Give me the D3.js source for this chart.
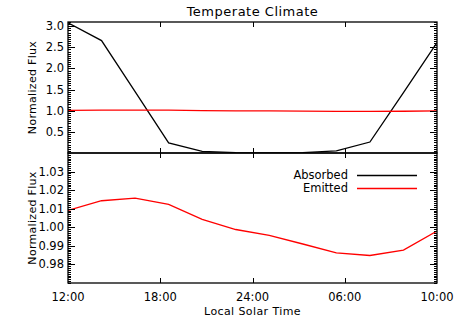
<!DOCTYPE html>
<html>
<head>
<meta charset="utf-8">
<script src="https://cdn.jsdelivr.net/npm/d3@7"></script>
<style>
  body { margin: 0; background: #fff; }
  text { font-family: "DejaVu Sans", sans-serif; fill: #000; }
</style>
</head>
<body>
<svg id="chart" width="458" height="327"></svg>
<script>
// hours after 12:00, one sample every 2 hours
var hours = [0, 2, 4, 6, 8, 10, 12, 14, 16, 18, 20, 22];
var absorbed = [3.08, 2.66, 1.45, 0.24, 0.04, 0.01, 0.005, 0.01, 0.05, 0.26, 1.43, 2.61];
var emitted = [1.0091, 1.0143, 1.0157, 1.0123, 1.0043, 0.9988, 0.9957, 0.9910, 0.9862, 0.9848, 0.9877, 0.9980];
var xTickPos = [0, 5.5, 11, 16.5, 22];
var xTickLabels = ["12:00", "18:00", "24:00", "06:00", "10:00"];
var topTicks = [0.5, 1.0, 1.5, 2.0, 2.5, 3.0];
var botTicks = [0.98, 0.99, 1.00, 1.01, 1.02, 1.03];

var svg = d3.select("#chart");
var L = 68, R = 437, T = 22, M = 153, B = 283;

var x = d3.scaleLinear().domain([0, 22]).range([L, R]);
var yTop = d3.scaleLinear().domain([0, 3.1]).range([M, T]);
var yBot = d3.scaleLinear().domain([0.97, 1.04]).range([B, M]);

/* draw ticks for one panel: major + minor on left/right, majors on top/bottom */
function panel(y, majors, minorStep, fmt, top, bottom) {
    var g = svg.append("g");
    var d0 = y.domain()[0], d1 = y.domain()[1];
    var minors = d3.range(Math.ceil(d0 / minorStep - 1e-6), Math.floor(d1 / minorStep + 1e-6) + 1)
        .map(function (i) { return i * minorStep; });

    g.selectAll(".minL").data(minors).enter().append("line")
        .attr("x1", L).attr("x2", L + 3)
        .attr("y1", function (d) { return Math.round(y(d)) + 0.5; })
        .attr("y2", function (d) { return Math.round(y(d)) + 0.5; })
        .attr("stroke", "#000").attr("stroke-width", 1);
    g.selectAll(".minR").data(minors).enter().append("line")
        .attr("x1", R).attr("x2", R - 3)
        .attr("y1", function (d) { return Math.round(y(d)) + 0.5; })
        .attr("y2", function (d) { return Math.round(y(d)) + 0.5; })
        .attr("stroke", "#000").attr("stroke-width", 1);
    g.selectAll(".majL").data(majors).enter().append("line")
        .attr("x1", L).attr("x2", L + 7)
        .attr("y1", function (d) { return Math.round(y(d)) + 0.5; })
        .attr("y2", function (d) { return Math.round(y(d)) + 0.5; })
        .attr("stroke", "#000").attr("stroke-width", 1);
    g.selectAll(".majR").data(majors).enter().append("line")
        .attr("x1", R).attr("x2", R - 7)
        .attr("y1", function (d) { return Math.round(y(d)) + 0.5; })
        .attr("y2", function (d) { return Math.round(y(d)) + 0.5; })
        .attr("stroke", "#000").attr("stroke-width", 1);

    g.selectAll(".lab").data(majors).enter().append("text")
        .attr("x", L - 4).attr("y", function (d) { return y(d) + 4; })
        .attr("text-anchor", "end").style("font-size", "11.5px")
        .text(function (d) { return fmt(d); });

    // x ticks on top and bottom of the panel
    var inner = xTickPos.slice(1, -1);
    g.selectAll(".xt").data(inner).enter().append("line")
        .attr("x1", function (d) { return Math.round(x(d)) + 0.5; })
        .attr("x2", function (d) { return Math.round(x(d)) + 0.5; })
        .attr("y1", top).attr("y2", top + 5)
        .attr("stroke", "#000");
    g.selectAll(".xb").data(inner).enter().append("line")
        .attr("x1", function (d) { return Math.round(x(d)) + 0.5; })
        .attr("x2", function (d) { return Math.round(x(d)) + 0.5; })
        .attr("y1", bottom).attr("y2", bottom - 5)
        .attr("stroke", "#000");

    g.append("rect").attr("x", L).attr("y", top)
        .attr("width", R - L).attr("height", bottom - top)
        .attr("fill", "none").attr("stroke", "#000").attr("stroke-width", 1.3);
    return g;
}

var clipT = svg.append("clipPath").attr("id", "ct").append("rect")
    .attr("x", L).attr("y", T).attr("width", R - L).attr("height", M - T);
var clipB = svg.append("clipPath").attr("id", "cb").append("rect")
    .attr("x", L).attr("y", M).attr("width", R - L).attr("height", B - M);

var lineTop = d3.line().x(function (d, i) { return x(hours[i]); }).y(function (d) { return yTop(d); });
var lineBot = d3.line().x(function (d, i) { return x(hours[i]); }).y(function (d) { return yBot(d); });

var gt = svg.append("g").attr("clip-path", "url(#ct)");
gt.append("path").datum(absorbed).attr("d", lineTop)
    .attr("fill", "none").attr("stroke", "#000").attr("stroke-width", 1.3);
gt.append("path").datum(emitted).attr("d", lineTop)
    .attr("fill", "none").attr("stroke", "#f00").attr("stroke-width", 1.3);

var gb = svg.append("g").attr("clip-path", "url(#cb)");
gb.append("path").datum(emitted).attr("d", lineBot)
    .attr("fill", "none").attr("stroke", "#f00").attr("stroke-width", 1.3);

panel(yTop, topTicks, 0.05, d3.format(".1f"), T, M);
panel(yBot, botTicks, 0.001, d3.format(".2f"), M, B);

// x tick labels
svg.selectAll(".xl").data(xTickPos).enter().append("text")
    .attr("x", function (d) { return x(d); }).attr("y", B + 18)
    .attr("text-anchor", "middle").style("font-size", "11.5px")
    .text(function (d, i) { return xTickLabels[i]; });

svg.append("text").attr("x", (L + R) / 2).attr("y", 315)
    .attr("text-anchor", "middle").style("font-size", "11px")
    .style("letter-spacing", "0.4px").text("Local Solar Time");

svg.append("text").attr("x", (L + R) / 2).attr("y", 16)
    .attr("text-anchor", "middle").style("font-size", "13px")
    .style("letter-spacing", "0.5px").text("Temperate Climate");

[[(T + M) / 2], [(M + B) / 2]].forEach(function (c) {
    svg.append("text")
        .attr("transform", "translate(36," + c[0] + ") rotate(-90)")
        .attr("text-anchor", "middle").style("font-size", "11px")
        .style("letter-spacing", "0.3px").text("Normalized Flux");
});

// legend
var legend = [["Absorbed", "#000"], ["Emitted", "#f00"]];
var lg = svg.selectAll(".lg").data(legend).enter().append("g")
    .attr("transform", function (d, i) { return "translate(0," + (175 + i * 13) + ")"; });
lg.append("text").attr("x", 348).attr("y", 4).attr("text-anchor", "end")
    .style("font-size", "11.5px").text(function (d) { return d[0]; });
lg.append("line").attr("x1", 357).attr("x2", 417).attr("y1", 0.5).attr("y2", 0.5)
    .attr("stroke", function (d) { return d[1]; }).attr("stroke-width", 1.3);
</script>
</body>
</html>
